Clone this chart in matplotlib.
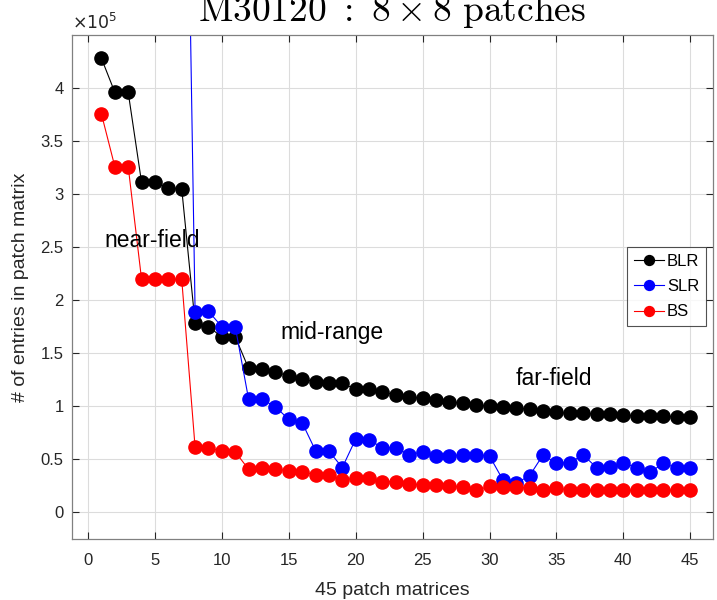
import numpy as np
import matplotlib
matplotlib.use('Agg')
import matplotlib.pyplot as plt

plt.rcParams['font.family'] = ['Liberation Sans', 'DejaVu Sans']
plt.rcParams['mathtext.fontset'] = 'cm'

# patch matrix index 1..45
patch_idx = np.arange(1, 46)

# number of entries in each patch matrix (units of 1e5)
blr = [4.28, 3.96, 3.96, 3.11, 3.11, 3.06, 3.05, 1.786, 1.75, 1.655,
       1.655, 1.357, 1.35, 1.325, 1.285, 1.257, 1.23, 1.22, 1.216, 1.163,
       1.163, 1.137, 1.106, 1.09, 1.075, 1.059, 1.043, 1.028, 1.012, 1.003,
       0.996, 0.987, 0.972, 0.955, 0.943, 0.934, 0.934, 0.928, 0.925, 0.918,
       0.912, 0.912, 0.909, 0.902, 0.902]
slr = [12.0, 11.5, 11.0, 10.5, 10.2, 9.9, 9.6, 1.89, 1.896, 1.75,
       1.75, 1.066, 1.066, 0.996, 0.877, 0.846, 0.582, 0.578, 0.423, 0.692,
       0.683, 0.611, 0.611, 0.542, 0.573, 0.532, 0.532, 0.545, 0.545, 0.532,
       0.307, 0.276, 0.347, 0.542, 0.464, 0.47, 0.542, 0.423, 0.432, 0.47,
       0.417, 0.379, 0.464, 0.417, 0.417]
bs = [3.756, 3.26, 3.26, 2.197, 2.197, 2.197, 2.197, 0.614, 0.605, 0.58,
      0.57, 0.407, 0.417, 0.41, 0.394, 0.385, 0.354, 0.354, 0.307, 0.323,
      0.323, 0.291, 0.291, 0.269, 0.26, 0.26, 0.25, 0.24, 0.21, 0.245,
      0.238, 0.238, 0.232, 0.21, 0.235, 0.208, 0.208, 0.208, 0.208, 0.208,
      0.208, 0.208, 0.208, 0.208, 0.208]

series = [('BLR', blr, 'k'), ('SLR', slr, 'b'), ('BS', bs, 'r')]

fig = plt.figure(figsize=(7.17, 6.0), dpi=100)
ax = fig.add_axes([0.1004, 0.1017, 0.8940, 0.8400])

for name, vals, col in series:
    ax.plot(patch_idx, vals, '-o', color=col, markerfacecolor=col,
            markeredgecolor=col, markersize=9.5, linewidth=0.8, label=name)

ax.set_xlim(-1.2, 46.7)
ax.set_ylim(-0.25, 4.5)
ax.set_xticks(np.arange(0, 46, 5))
ax.set_yticks(np.arange(0, 4.01, 0.5))
ax.set_yticklabels(['0', '0.5', '1', '1.5', '2', '2.5', '3', '3.5', '4'])
ax.grid(True, color='#dcdcdc', linewidth=0.8)
ax.set_axisbelow(True)
ax.tick_params(direction='in', top=True, right=True, labelsize=12,
               colors='#262626', length=5)
ax.tick_params(axis='x', pad=10)
ax.tick_params(axis='y', pad=6)
for sp in ax.spines.values():
    sp.set_color('#808080')
    sp.set_linewidth(0.9)

ax.set_xlabel('45 patch matrices', fontsize=14, color='#262626', labelpad=10)
ax.set_ylabel('# of entries in patch matrix', fontsize=14, color='#262626',
              labelpad=8)
ax.text(0.0, 1.006, r'$\times10^{5}$', transform=ax.transAxes,
        fontsize=12.5, color='#262626', ha='left', va='bottom',
        math_fontfamily='dejavusans')
ax.set_title(r'$\mathrm{M30120\ :\ 8 \times 8\ patches}$', fontsize=27, pad=10)

ax.text(4.8, 2.56, 'near-field', fontsize=16.5, ha='center', va='center')
ax.text(18.2, 1.70, 'mid-range', fontsize=16.5, ha='center', va='center')
ax.text(34.8, 1.265, 'far-field', fontsize=16.5, ha='center', va='center')

leg = ax.legend(loc='upper left', bbox_to_anchor=(0.866, 0.579),
                fontsize=12, frameon=True, fancybox=False,
                handlelength=1.8, handletextpad=0.2, borderpad=0.4,
                borderaxespad=0, labelspacing=0.62, markerscale=0.75)
leg.get_frame().set_edgecolor('#262626')
leg.get_frame().set_linewidth(0.8)

fig.savefig('out.png', dpi=100)
